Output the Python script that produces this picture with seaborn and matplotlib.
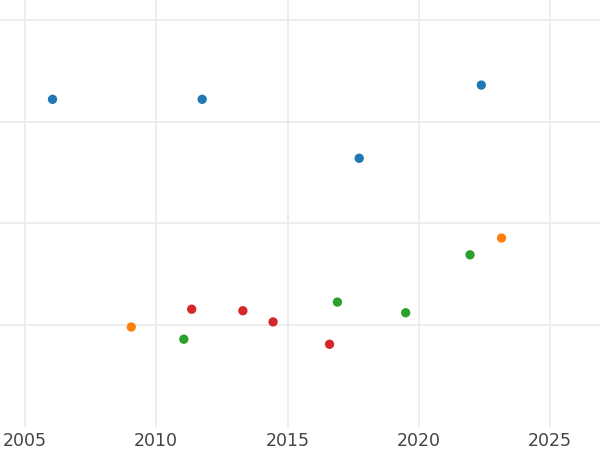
import numpy as np
import pandas as pd
import seaborn as sns
from matplotlib import pyplot as plt

# values
years = [2006.05, 2011.75, 2017.73, 2022.38,
         2009.05, 2023.15,
         2011.05, 2016.9, 2019.5, 2021.95,
         2011.35, 2013.3, 2014.45, 2016.6]
values = [32.2, 32.2, 26.4, 33.6,
          9.8, 18.55,
          8.6, 12.25, 11.2, 16.9,
          11.55, 11.4, 10.3, 8.1]
groups = ["a"] * 4 + ["b"] * 2 + ["c"] * 4 + ["d"] * 4
group_colors = ["#1f77b4", "#ff7f0e", "#2ca02c", "#d62728"]
year_ticks = [2005, 2010, 2015, 2020, 2025]

df = pd.DataFrame({"year": years, "value": values, "group": groups})

sns.set_style("whitegrid", {"grid.color": "#ececec", "axes.edgecolor": "white"})
plt.rcParams["font.family"] = ["DejaVu Sans"]

fig = plt.figure(figsize=(6, 4.5), dpi=100)
ax = fig.add_axes([0, 0.052, 1, 0.948])
sns.scatterplot(data=df, x="year", y="value", hue="group", palette=group_colors,
                s=45, linewidth=0, legend=False, ax=ax)

ax.set_xlim(2004.05, 2026.9)
ax.set_ylim(0, 41.97)
ax.set_xticks(year_ticks)
ax.set_yticks([10, 20, 30, 40])
ax.set_yticklabels([])
ax.grid(True, linewidth=1.3)
ax.tick_params(axis="both", length=0, pad=4, labelsize=12.5, colors="#444444")
ax.set_xlabel("")
ax.set_ylabel("")
for sp in ax.spines.values():
    sp.set_visible(False)

plt.savefig("out.png", dpi=100)
